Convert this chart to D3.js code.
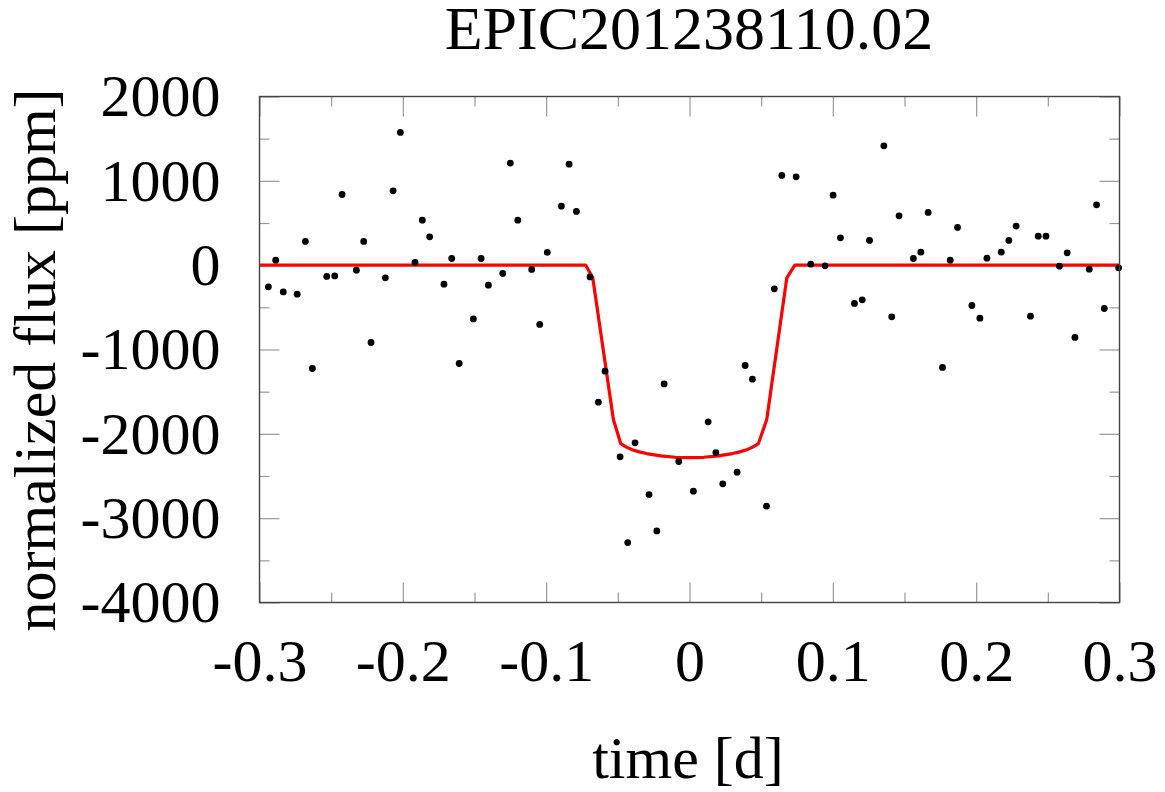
<!DOCTYPE html>
<html>
<head>
<meta charset="utf-8">
<script src="https://cdn.jsdelivr.net/npm/d3@7"></script>
<style>
  html, body { margin: 0; padding: 0; background: #fff; }
  svg { display: block; }
  text { font-family: "Liberation Serif", "DejaVu Serif", serif; fill: #000; }
</style>
</head>
<body>
<svg id="chart" width="1165" height="792"></svg>
<script>
// ---- data ----
const title = "EPIC201238110.02";
const xLabel = "time [d]";
const yLabel = "normalized flux [ppm]";

const xMajorTicks = [-0.3, -0.2, -0.1, 0, 0.1, 0.2, 0.3];
const xMinorTicks = [-0.25, -0.15, -0.05, 0.05, 0.15, 0.25];
const yMajorTicks = [-4000, -3000, -2000, -1000, 0, 1000, 2000];
const yMinorTicks = [-3500, -2500, -1500, -500, 500, 1500];

const obsTime = [
  -0.2938, -0.2887, -0.2834, -0.2737, -0.2680, -0.2631, -0.2531, -0.2475, -0.2424, -0.2324,
  -0.2273, -0.2222, -0.2122, -0.2068, -0.2017, -0.1915, -0.1864, -0.1813, -0.1713, -0.1659,
  -0.1607, -0.1508, -0.1454, -0.1403, -0.1303, -0.1250, -0.1198, -0.1101, -0.1045, -0.0992,
  -0.0894, -0.0840, -0.0789, -0.0694, -0.0636, -0.0589, -0.0484, -0.0431, -0.0380, -0.0282,
  -0.0228, -0.0177, -0.0075, 0.0027, 0.0130, 0.0184, 0.0232, 0.0332, 0.0388, 0.0439,
  0.0537, 0.0592, 0.0644, 0.0744, 0.0846, 0.0946, 0.1002, 0.1053, 0.1151, 0.1205,
  0.1256, 0.1356, 0.1411, 0.1462, 0.1562, 0.1614, 0.1665, 0.1765, 0.1819, 0.1870,
  0.1970, 0.2026, 0.2075, 0.2175, 0.2228, 0.2279, 0.2379, 0.2433, 0.2487, 0.2581,
  0.2635, 0.2689, 0.2789, 0.2840, 0.2894, 0.2994
];
const obsFlux = [
  -257, 59, -317, -344, 281, -1225, -134, -127, 838, -59,
  281, -917, -150, 881, 1574, 32, 534, 336, -225, 79,
  -1166, -637, 79, -237, -98, 1210, 534, -51, -703, 151,
  700, 1198, 637, -139, -1625, -1257, -2273, -3289, -2107, -2720,
  -3151, -1408, -2328, -2680, -1858, -2222, -2593, -2455, -1190, -1352,
  -2858, -281, 1064, 1047, 12, -8, 830, 324, -454, -411,
  293, 1415, -613, 585, 79, 154, 625, -1213, 59, 447,
  -478, -629, 83, 154, 293, 463, -605, 344, 344, -12,
  146, -857, -47, 715, -514, -32
];

const modelTime = [-0.3, -0.0724, -0.0675, -0.0531, -0.0480, -0.0440, -0.0400, -0.0350, -0.0300, -0.0200, -0.0100, 0.0,
                   0.0100, 0.0200, 0.0300, 0.0350, 0.0400, 0.0440, 0.0481, 0.0539, 0.0679, 0.0735, 0.3];
const modelFlux = [0, 0, -150, -1830, -2115, -2158, -2188, -2214, -2234, -2262, -2278, -2282,
                   -2278, -2262, -2234, -2214, -2188, -2158, -2115, -1830, -150, 0, 0];

// ---- layout ----
const svg = d3.select("#chart");
const pL = 259.5, pR = 1119.5, pT = 96.5, pB = 602.5;
const x = d3.scaleLinear().domain([-0.3, 0.3]).range([pL, pR]);
const y = d3.scaleLinear().domain([-4000, 2000]).range([pB, pT]);
const fmt = d => String(+d.toFixed(4));
const tickColor = "#999";

function styleAxis(g) {
  g.select(".domain").remove();
  g.selectAll(".tick line").attr("stroke", tickColor).attr("stroke-width", 1.2);
  g.selectAll("text").style("font-size", "60px").attr("fill", "#000");
}

// bottom
svg.append("g").attr("transform", `translate(0,${pB})`)
  .call(d3.axisBottom(x).tickValues(xMajorTicks).tickSize(-20).tickPadding(0).tickFormat(fmt))
  .call(styleAxis)
  .call(g => g.selectAll("text").attr("y", 78).attr("dy", 0));
svg.append("g").attr("transform", `translate(0,${pB})`)
  .call(d3.axisBottom(x).tickValues(xMinorTicks).tickSize(-10).tickFormat(""))
  .call(styleAxis);
// top
svg.append("g").attr("transform", `translate(0,${pT})`)
  .call(d3.axisTop(x).tickValues(xMajorTicks).tickSize(-20).tickFormat(""))
  .call(styleAxis);
svg.append("g").attr("transform", `translate(0,${pT})`)
  .call(d3.axisTop(x).tickValues(xMinorTicks).tickSize(-10).tickFormat(""))
  .call(styleAxis);
// left
svg.append("g").attr("transform", `translate(${pL},0)`)
  .call(d3.axisLeft(y).tickValues(yMajorTicks).tickSize(-20).tickFormat(fmt))
  .call(styleAxis)
  .call(g => g.selectAll("text").attr("x", -39).attr("dy", "0.32em"));
svg.append("g").attr("transform", `translate(${pL},0)`)
  .call(d3.axisLeft(y).tickValues(yMinorTicks).tickSize(-10).tickFormat(""))
  .call(styleAxis);
// right
svg.append("g").attr("transform", `translate(${pR},0)`)
  .call(d3.axisRight(y).tickValues(yMajorTicks).tickSize(-20).tickFormat(""))
  .call(styleAxis);
svg.append("g").attr("transform", `translate(${pR},0)`)
  .call(d3.axisRight(y).tickValues(yMinorTicks).tickSize(-10).tickFormat(""))
  .call(styleAxis);

svg.append("clipPath").attr("id", "plotclip")
  .append("rect").attr("x", pL).attr("y", pT).attr("width", pR - pL).attr("height", pB - pT);

const plot = svg.append("g").attr("clip-path", "url(#plotclip)");

// model line
const model = modelTime.map((t, i) => [t, modelFlux[i]]);
plot.append("path")
  .datum(model)
  .attr("fill", "none")
  .attr("stroke", "#ff0000")
  .attr("stroke-width", 3.2)
  .attr("stroke-linejoin", "round")
  .attr("d", d3.line().x(d => x(d[0])).y(d => y(d[1])));

// points
const pts = obsTime.map((t, i) => [t, obsFlux[i]]);
svg.append("g").selectAll("circle").data(pts).join("circle")
  .attr("cx", d => x(d[0])).attr("cy", d => y(d[1])).attr("r", 3.4).attr("fill", "#000");

// frame
svg.append("rect").attr("x", pL).attr("y", pT).attr("width", pR - pL).attr("height", pB - pT)
  .attr("fill", "none").attr("stroke", "#444").attr("stroke-width", 1.4);

// labels
svg.append("text").attr("x", 689).attr("y", 49).attr("text-anchor", "middle")
  .style("font-size", "62px").text(title);
svg.append("text").attr("x", 688).attr("y", 778).attr("text-anchor", "middle")
  .style("font-size", "60px").text(xLabel);
svg.append("text").attr("transform", "translate(55,360) rotate(-90)").attr("text-anchor", "middle")
  .style("font-size", "60px").text(yLabel);
</script>
</body>
</html>
